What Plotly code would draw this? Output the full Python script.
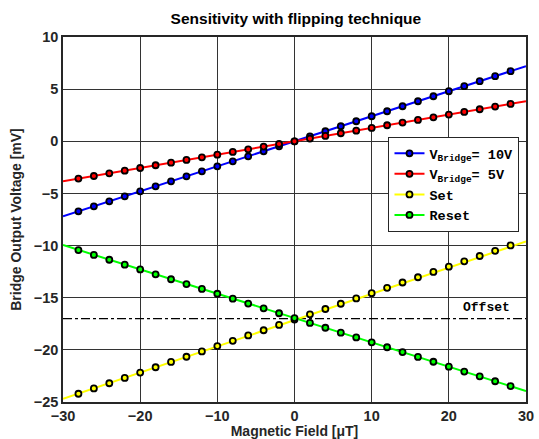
import plotly.graph_objects as go

# Data
x_pts = [-28, -26, -24, -22, -20, -18, -16, -14, -12, -10, -8, -6, -4, -2, 0,
         2, 4, 6, 8, 10, 12, 14, 16, 18, 20, 22, 24, 26, 28]

v10 = [-6.72, -6.24, -5.76, -5.28, -4.80, -4.32, -3.84, -3.36, -2.88, -2.40,
       -1.92, -1.44, -0.96, -0.48, 0.00, 0.48, 0.96, 1.44, 1.92, 2.40,
       2.88, 3.36, 3.84, 4.32, 4.80, 5.28, 5.76, 6.24, 6.72]

v5 = [-3.58, -3.33, -3.07, -2.82, -2.56, -2.30, -2.05, -1.79, -1.54, -1.28,
      -1.02, -0.77, -0.51, -0.26, 0.00, 0.26, 0.51, 0.77, 1.02, 1.28,
      1.54, 1.79, 2.05, 2.30, 2.56, 2.82, 3.07, 3.33, 3.58]

v_set = [-24.21, -23.70, -23.20, -22.69, -22.18, -21.67, -21.16, -20.66, -20.15, -19.64,
         -19.13, -18.62, -18.12, -17.61, -17.10, -16.59, -16.08, -15.58, -15.07, -14.56,
         -14.05, -13.54, -13.04, -12.53, -12.02, -11.51, -11.00, -10.50, -9.99]

v_reset = [-10.43, -10.90, -11.36, -11.83, -12.29, -12.76, -13.23, -13.69, -14.16, -14.62,
           -15.09, -15.56, -16.02, -16.49, -16.95, -17.42, -17.88, -18.35, -18.81, -19.28,
           -19.75, -20.21, -20.68, -21.14, -21.61, -22.08, -22.54, -23.01, -23.47]

x_fit = [-30, 30]
fit_v10 = [-7.2, 7.2]
fit_v5 = [-3.84, 3.84]
fit_set = [-24.7, -9.6]
fit_reset = [-9.95, -23.95]
offset_val = [-17.0, -17.0]

names = ["V<sub>Bridge</sub>= 10V", "V<sub>Bridge</sub>= 5V", "Set", "Reset"]
colors = ["#0000ff", "#ff0000", "#ffff00", "#00ff00"]
fits = [fit_v10, fit_v5, fit_set, fit_reset]
pts = [v10, v5, v_set, v_reset]

fig = go.Figure()

# Offset line
fig.add_trace(go.Scatter(x=x_fit, y=offset_val, mode="lines",
                         line=dict(color="black", width=1.3, dash="dashdot"),
                         showlegend=False, hoverinfo="skip"))

for name, c, f, p in zip(names, colors, fits, pts):
    fig.add_trace(go.Scatter(x=x_fit, y=f, mode="lines",
                             line=dict(color=c, width=2), showlegend=False))
    fig.add_trace(go.Scatter(x=x_pts, y=p, mode="markers",
                             marker=dict(symbol="circle", size=6, color=c,
                                         line=dict(color="black", width=1.8)),
                             showlegend=False))
    fig.add_trace(go.Scatter(x=[None], y=[None], mode="lines+markers", name=name,
                             line=dict(color=c, width=2),
                             marker=dict(symbol="circle", size=6, color=c,
                                         line=dict(color="black", width=1.8))))

fig.add_annotation(x=24.9, y=-15.9, text="Offset", showarrow=False,
                   font=dict(family="Liberation Mono", size=13, color="black", weight="bold"),
                   xanchor="center", yanchor="middle")

axis_common = dict(showline=True, mirror=True, linecolor="#262626", linewidth=1.5,
                   showgrid=True, gridcolor="#333333", gridwidth=1, zeroline=False,
                   automargin=False,
                   ticks="", tickfont=dict(family="Liberation Sans", size=14.5,
                                           color="#262626", weight="bold"))

fig.update_xaxes(range=[-30, 30], tickvals=[-30, -20, -10, 0, 10, 20, 30],
                 title=dict(text="Magnetic Field [μT]", standoff=3,
                            font=dict(family="Liberation Sans", size=14, color="#262626",
                                      weight="bold")),
                 **axis_common)
fig.update_yaxes(range=[-25, 10], tickvals=[-25, -20, -15, -10, -5, 0, 5, 10],
                 title=dict(text="Bridge Output Voltage [mV]", standoff=9,
                            font=dict(family="Liberation Sans", size=14, color="#262626",
                                      weight="bold")),
                 **axis_common)

fig.update_layout(
    width=539, height=439,
    margin=dict(l=63, r=13, t=37, b=37),
    paper_bgcolor="white", plot_bgcolor="white",
    title=dict(text="Sensitivity with flipping technique", x=0.549, xanchor="center",
               y=0.958, yanchor="middle",
               font=dict(family="Liberation Sans", size=15.5, color="black", weight="bold")),
    legend=dict(x=0.703, y=0.726, xanchor="left", yanchor="top",
                bgcolor="white", bordercolor="#262626", borderwidth=1,
                font=dict(family="Liberation Mono", size=13.5, color="black", weight="bold"),
                tracegroupgap=2, itemwidth=30),
    showlegend=True,
)

fig.write_html("out.html")
